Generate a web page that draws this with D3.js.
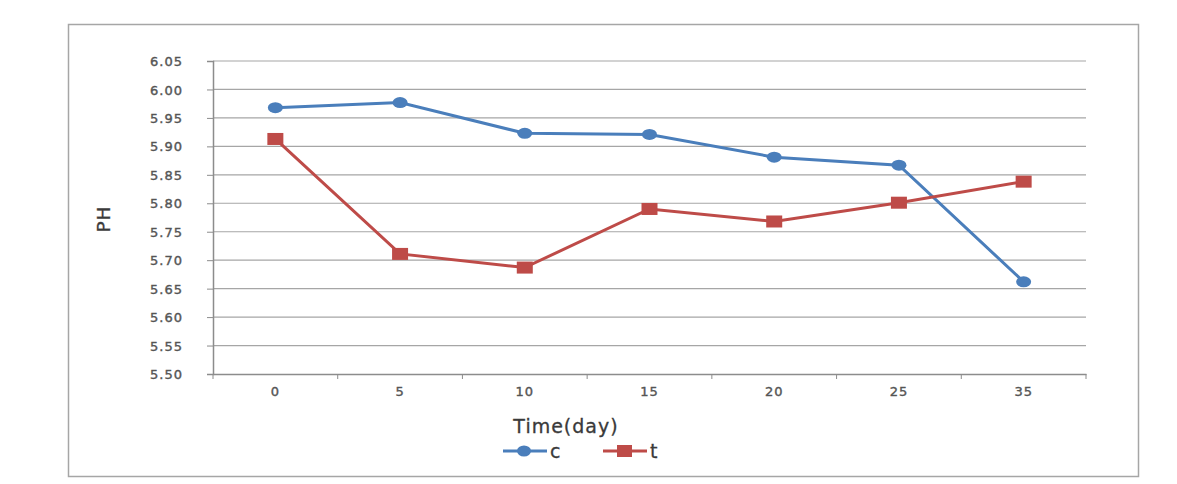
<!DOCTYPE html>
<html>
<head>
<meta charset="utf-8">
<script src="https://cdn.jsdelivr.net/npm/d3@7"></script>
<style>
  body { margin: 0; background: #fff; }
  svg text { font-family: "DejaVu Sans", Verdana, sans-serif; }
</style>
</head>
<body>
<div id="chart"></div>
<script>
const days = ["0", "5", "10", "15", "20", "25", "35"];
const seriesC = [5.968, 5.977, 5.923, 5.921, 5.881, 5.867, 5.662];
const seriesT = [5.913, 5.711, 5.687, 5.790, 5.768, 5.801, 5.838];
const yTicks = [5.50, 5.55, 5.60, 5.65, 5.70, 5.75, 5.80, 5.85, 5.90, 5.95, 6.00, 6.05];

function buildViz() {
    const W = 1177, H = 484;
    const plot = { left: 213, right: 1086, top: 61, bottom: 374 };

    const svg = d3.select("#chart").append("svg")
        .attr("width", W)
        .attr("height", H);

    // outer frame
    svg.append("rect")
        .attr("x", 68.5).attr("y", 24.5)
        .attr("width", 1070).attr("height", 452)
        .attr("fill", "#fff")
        .attr("stroke", "#a6a6a6")
        .attr("stroke-width", 1.5);

    const x = d3.scaleBand()
        .domain(days)
        .range([plot.left, plot.right]);

    const y = d3.scaleLinear()
        .domain([5.50, 6.05])
        .range([plot.bottom, plot.top]);

    // grid
    svg.append("g")
        .selectAll("line")
        .data(yTicks.slice(1))
        .enter().append("line")
        .attr("x1", plot.left).attr("x2", plot.right)
        .attr("y1", d => y(d)).attr("y2", d => y(d))
        .attr("stroke", "#a6a6a6")
        .attr("stroke-width", 1.2);

    // y axis
    const yAxis = svg.append("g")
        .attr("transform", `translate(${plot.left},0)`)
        .call(d3.axisLeft(y).tickValues(yTicks).tickFormat(d3.format(".2f")).tickSize(6).tickPadding(24));
    yAxis.select(".domain").attr("stroke", "#8c8c8c").attr("stroke-width", 1.5);
    yAxis.selectAll(".tick line").attr("stroke", "#8c8c8c");
    yAxis.selectAll("text")
        .attr("fill", "#555")
        .attr("stroke", "#555").attr("stroke-width", 0.4)
        .style("font-size", "13px")
        .style("letter-spacing", "1px")
        .attr("dy", "0.35em");

    // x axis, ticks sit on band boundaries
    const xAxis = svg.append("g")
        .attr("transform", `translate(0,${plot.bottom})`)
        .call(d3.axisBottom(x).tickSize(0).tickPadding(13));
    xAxis.select(".domain").attr("stroke", "#8c8c8c").attr("stroke-width", 1.5);
    xAxis.selectAll("text")
        .attr("fill", "#555")
        .attr("stroke", "#555").attr("stroke-width", 0.4)
        .style("font-size", "13px")
        .style("letter-spacing", "1px");
    svg.append("g")
        .selectAll("line")
        .data(days.concat(["end"]))
        .enter().append("line")
        .attr("x1", (d, i) => i < days.length ? x(d) : plot.right)
        .attr("x2", (d, i) => i < days.length ? x(d) : plot.right)
        .attr("y1", plot.bottom).attr("y2", plot.bottom + 5)
        .attr("stroke", "#8c8c8c");

    // axis titles
    svg.append("text")
        .attr("x", 566).attr("y", 433)
        .attr("text-anchor", "middle")
        .attr("fill", "#3a3a3a")
        .attr("stroke", "#3a3a3a").attr("stroke-width", 0.3)
        .style("font-size", "19px")
        .style("letter-spacing", "1px")
        .text("Time(day)");

    svg.append("text")
        .attr("transform", "translate(110,219) rotate(-90)")
        .attr("text-anchor", "middle")
        .attr("fill", "#3a3a3a")
        .attr("stroke", "#3a3a3a").attr("stroke-width", 0.3)
        .style("font-size", "18px")
        .style("letter-spacing", "1px")
        .text("PH");

    const cx = d => x(d) + x.bandwidth() / 2;
    const line = d3.line().x((d, i) => cx(days[i])).y(d => y(d));

    const blue = "#4a7ebb", red = "#be4b48";

    svg.append("path").datum(seriesC)
        .attr("d", line).attr("fill", "none")
        .attr("stroke", blue).attr("stroke-width", 3);
    svg.append("path").datum(seriesT)
        .attr("d", line).attr("fill", "none")
        .attr("stroke", red).attr("stroke-width", 3);

    svg.selectAll(".mc").data(seriesC).enter().append("ellipse")
        .attr("cx", (d, i) => cx(days[i])).attr("cy", d => y(d))
        .attr("rx", 7.5).attr("ry", 5.5)
        .attr("fill", blue);
    svg.selectAll(".mt").data(seriesT).enter().append("rect")
        .attr("x", (d, i) => cx(days[i]) - 8).attr("y", d => y(d) - 6)
        .attr("width", 16).attr("height", 12)
        .attr("fill", red);

    // legend
    const legend = [
        { name: "c", color: blue, x: 503, shape: "circle" },
        { name: "t", color: red, x: 603, shape: "square" }
    ];
    const ly = 451;
    legend.forEach(l => {
        svg.append("line")
            .attr("x1", l.x).attr("x2", l.x + 44)
            .attr("y1", ly).attr("y2", ly)
            .attr("stroke", l.color).attr("stroke-width", 3);
        if (l.shape === "circle") {
            svg.append("ellipse").attr("cx", l.x + 21).attr("cy", ly)
                .attr("rx", 7).attr("ry", 5.5).attr("fill", l.color);
        } else {
            svg.append("rect").attr("x", l.x + 14).attr("y", ly - 6)
                .attr("width", 15).attr("height", 12).attr("fill", l.color);
        }
        svg.append("text")
            .attr("x", l.x + 47).attr("y", ly + 7)
            .attr("fill", "#3a3a3a")
            .attr("stroke", "#3a3a3a").attr("stroke-width", 0.3)
            .style("font-size", "19px")
            .text(l.name);
    });
}

buildViz();
</script>
</body>
</html>
